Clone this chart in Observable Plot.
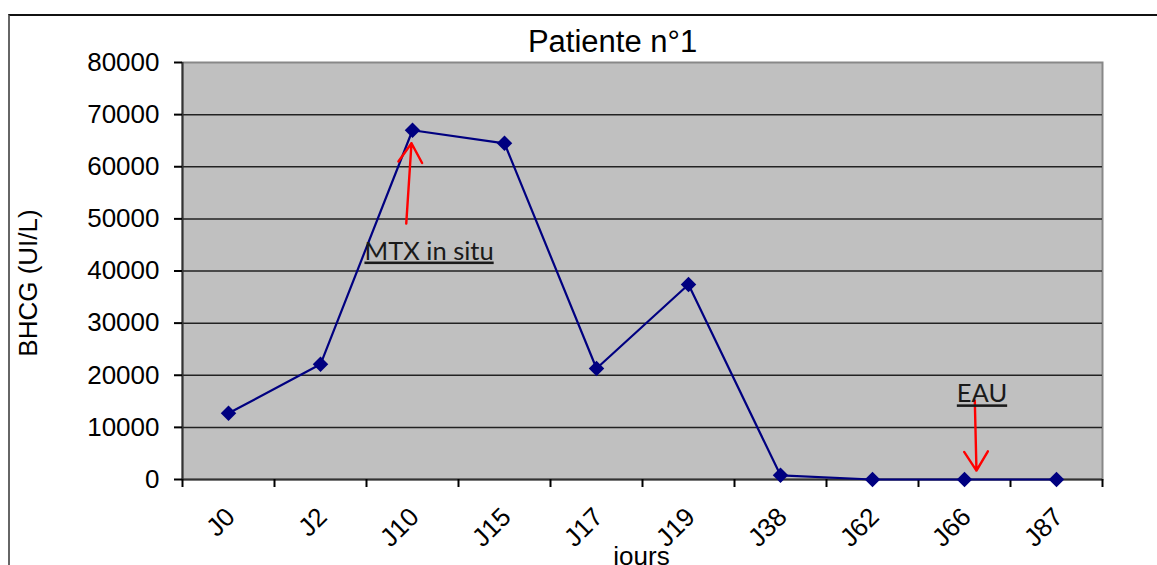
<!DOCTYPE html>
<html>
<head>
<meta charset="utf-8">
<script src="https://cdn.jsdelivr.net/npm/d3@7"></script>
<script src="https://cdn.jsdelivr.net/npm/@observablehq/plot@0.6"></script>
<style>
  html, body { margin: 0; padding: 0; background: #fff; overflow: hidden; }
  #wrap { position: relative; width: 1157px; height: 565px; }
  #chart { position: absolute; left: 0; top: 0; }
  #border { position: absolute; left: 8px; top: 14px; right: 0; bottom: -10px;
            border-top: 2px solid #111; border-left: 2px solid #666; pointer-events: none; }
</style>
</head>
<body>
<div id="wrap"><div id="chart"></div><div id="border"></div></div>
<script>
// ---- data ----
const title = "Patiente n°1";
const yLabel = "BHCG (UI/L)";
const xLabel = "jours";
const days = ["J0", "J2", "J10", "J15", "J17", "J19", "J38", "J62", "J66", "J87"];
const bhcg = [12700, 22100, 67000, 64500, 21300, 37400, 800, 0, 0, 0];
const yTicks = [0, 10000, 20000, 30000, 40000, 50000, 60000, 70000, 80000];

// annotations (x in category-index units, y in UI/L)
const annotLabels = ["MTX in situ", "EAU"];
const annotX = [2.18, 8.19];
const annotY = [42200, 14800];
const arrowX1 = [1.932, 8.112];
const arrowY1 = [49100, 15150];
const arrowX2 = [1.989, 8.13];
const arrowY2 = [64500, 1700];

// ---- build ----
const points = days.map((d, i) => ({i, day: d, v: bhcg[i]}));
const annots = annotLabels.map((t, k) => ({t, x: annotX[k], y: annotY[k]}));
const arrows = annotLabels.map((t, k) => ({x1: arrowX1[k], y1: arrowY1[k], x2: arrowX2[k], y2: arrowY2[k]}));
const xBounds = d3.range(days.length + 1).map(k => k - 0.5);
const font = "'Liberation Sans', Arial, sans-serif";
const annFont = "Lato, 'Open Sans', sans-serif";

const plot = Plot.plot({
  width: 1157,
  height: 565,
  marginLeft: 182,
  marginRight: 55,
  marginTop: 62,
  marginBottom: 86,
  style: {background: "transparent", color: "#000", fontFamily: font, overflow: "visible"},
  x: {type: "linear", domain: [-0.5, days.length - 0.5], label: null},
  y: {domain: [0, 80000], label: null},
  marks: [
    Plot.frame({fill: "#c0c0c0", stroke: "#888", strokeWidth: 2}),
    Plot.ruleY(yTicks.filter(d => d > 0 && d < 80000), {stroke: "#222", strokeWidth: 1.5}),
    Plot.ruleX([-0.5], {stroke: "#333", strokeWidth: 2}),
    Plot.ruleY([0], {stroke: "#333", strokeWidth: 2}),
    Plot.axisY(yTicks, {tickFormat: d => String(d), tickSize: 8, tickPadding: 15, fontSize: 26, strokeWidth: 2, label: null}),
    Plot.axisX(xBounds, {tickFormat: () => "", tickSize: 8, strokeWidth: 2, label: null}),
    Plot.text(points, {x: "i", text: "day", frameAnchor: "bottom", rotate: -45, textAnchor: "end",
      lineAnchor: "bottom", dx: 8, dy: 39, fontSize: 26}),
    Plot.line(points, {x: "i", y: "v", stroke: "#000080", strokeWidth: 2.2}),
    Plot.dot(points, {x: "i", y: "v", symbol: "diamond2", r: 7, fill: "#000080", stroke: "none"}),
    Plot.arrow(arrows, {x1: "x1", y1: "y1", x2: "x2", y2: "y2", stroke: "#ff0000", strokeWidth: 2.4,
      headLength: 14, headAngle: 64}),
    Plot.text(annots, {x: "x", y: "y", text: "t", lineAnchor: "bottom", fontSize: 25.5, fill: "#1a1a1a",
      fontFamily: annFont}),
    Plot.text([title], {frameAnchor: "top", textAnchor: "middle", lineAnchor: "bottom", dx: -30, dy: -11, fontSize: 31}),
    Plot.text([yLabel], {frameAnchor: "left", textAnchor: "middle", rotate: -90, lineAnchor: "middle", dx: -154, dy: 12, fontSize: 26}),
    Plot.text([xLabel], {frameAnchor: "bottom", textAnchor: "middle", lineAnchor: "bottom", dx: -1, dy: 85, fontSize: 26})
  ]
});

d3.select(plot).selectAll("text")
  .filter(function() { return annotLabels.includes(this.textContent); })
  .style("text-decoration", "underline")
  .style("text-decoration-thickness", "3px")
  .style("text-decoration-color", "#111");

document.getElementById("chart").appendChild(plot);
</script>
</body>
</html>
